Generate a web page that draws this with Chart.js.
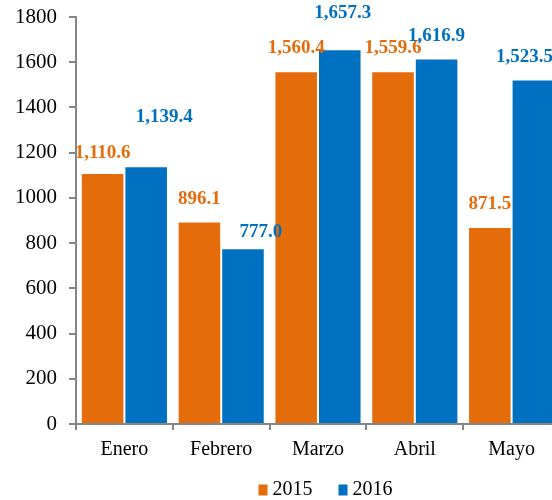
<!DOCTYPE html>
<html>
<head>
<meta charset="utf-8">
<script src="https://cdn.jsdelivr.net/npm/chart.js@4/dist/chart.umd.min.js"></script>
<style>
  html, body { margin: 0; padding: 0; background: #fff; overflow: hidden; }
  #wrap { position: relative; width: 580px; height: 500px; }
</style>
</head>
<body>
<div id="wrap"><canvas id="c"></canvas></div>
<script>
const categories = ['Enero', 'Febrero', 'Marzo', 'Abril', 'Mayo'];
const seriesNames = ['2015', '2016'];
const values2015 = [1110.6, 896.1, 1560.4, 1559.6, 871.5];
const values2016 = [1139.4, 777.0, 1657.3, 1616.9, 1523.5];
const yTicks = [0, 200, 400, 600, 800, 1000, 1200, 1400, 1600, 1800];

const ORANGE = '#E46C0A';
const BLUE = '#0070C0';
const AXIS = '#868686';
const FONT = "'Liberation Serif', 'Times New Roman', serif";

// label placement tweaks (pixels: [dx, distance above bar top])
const labelOffsets = [
  [[0, 20], [0, 22], [0, 23], [0, 23], [0, 23]],
  [[18, 49], [18, 16], [3, 36], [0, 22], [-9, 22]]
];

const fmt = v => v.toLocaleString('en-US', { minimumFractionDigits: 1, maximumFractionDigits: 1 });

const dataLabels = {
  id: 'dataLabels',
  afterDatasetsDraw(chart) {
    const ctx = chart.ctx;
    ctx.save();
    ctx.font = 'bold 19px ' + FONT;
    ctx.textAlign = 'center';
    ctx.textBaseline = 'middle';
    chart.data.datasets.forEach((ds, di) => {
      const meta = chart.getDatasetMeta(di);
      ctx.fillStyle = ds.backgroundColor;
      meta.data.forEach((el, i) => {
        const off = labelOffsets[di][i];
        ctx.fillText(fmt(ds.data[i]), el.x + off[0], el.y - off[1]);
      });
    });
    ctx.restore();
  }
};

const customLegend = {
  id: 'customLegend',
  afterDraw(chart) {
    const ctx = chart.ctx;
    ctx.save();
    ctx.font = '20px ' + FONT;
    ctx.textBaseline = 'middle';
    const boxW = 9, boxH = 11, gap = 5, itemGap = 26;
    const items = chart.data.datasets.map(ds => ({ text: ds.label, color: ds.backgroundColor, w: ctx.measureText(ds.label).width }));
    let total = 0;
    items.forEach((it, i) => { total += boxW + gap + it.w + (i ? itemGap : 0); });
    let x = 325.5 - total / 2;
    const cy = 490;
    items.forEach(it => {
      ctx.fillStyle = it.color;
      ctx.fillRect(x, cy - boxH / 2, boxW, boxH);
      x += boxW + gap;
      ctx.fillStyle = '#000';
      ctx.fillText(it.text, x, cy);
      x += it.w + itemGap;
    });
    ctx.restore();
  }
};

new Chart(document.getElementById('c'), {
  type: 'bar',
  data: {
    labels: categories,
    datasets: [
      { label: seriesNames[0], data: values2015, backgroundColor: ORANGE, borderColor: 'rgba(255,255,255,0.35)', borderWidth: 1 },
      { label: seriesNames[1], data: values2016, backgroundColor: BLUE, borderColor: 'rgba(255,255,255,0.35)', borderWidth: 1 }
    ]
  },
  options: {
    responsive: true,
    maintainAspectRatio: false,
    animation: false,
    layout: { padding: { top: 17, left: 3, right: 20, bottom: 30 } },
    datasets: { bar: { categoryPercentage: 0.9, barPercentage: 1.0 } },
    plugins: {
      legend: { display: false },
      tooltip: { enabled: false }
    },
    scales: {
      x: {
        grid: { offset: true, drawOnChartArea: false, drawTicks: true, tickLength: 6, color: AXIS, lineWidth: 2 },
        border: { display: true, color: AXIS, width: 2 },
        ticks: { color: '#000', font: { family: FONT, size: 20 }, padding: 8, maxRotation: 0 }
      },
      y: {
        min: 0, max: 1800,
        afterBuildTicks(scale) { scale.ticks = yTicks.map(v => ({ value: v })); },
        afterFit(scale) { scale.paddingTop = 0; scale.paddingBottom = 0; },
        grid: { drawOnChartArea: false, drawTicks: true, tickLength: 7, color: AXIS, lineWidth: 2 },
        border: { display: true, color: AXIS, width: 2 },
        ticks: { color: '#000', font: { family: FONT, size: 21 }, padding: 12, callback: v => String(v) }
      }
    }
  },
  plugins: [dataLabels, customLegend]
});
</script>
</body>
</html>
